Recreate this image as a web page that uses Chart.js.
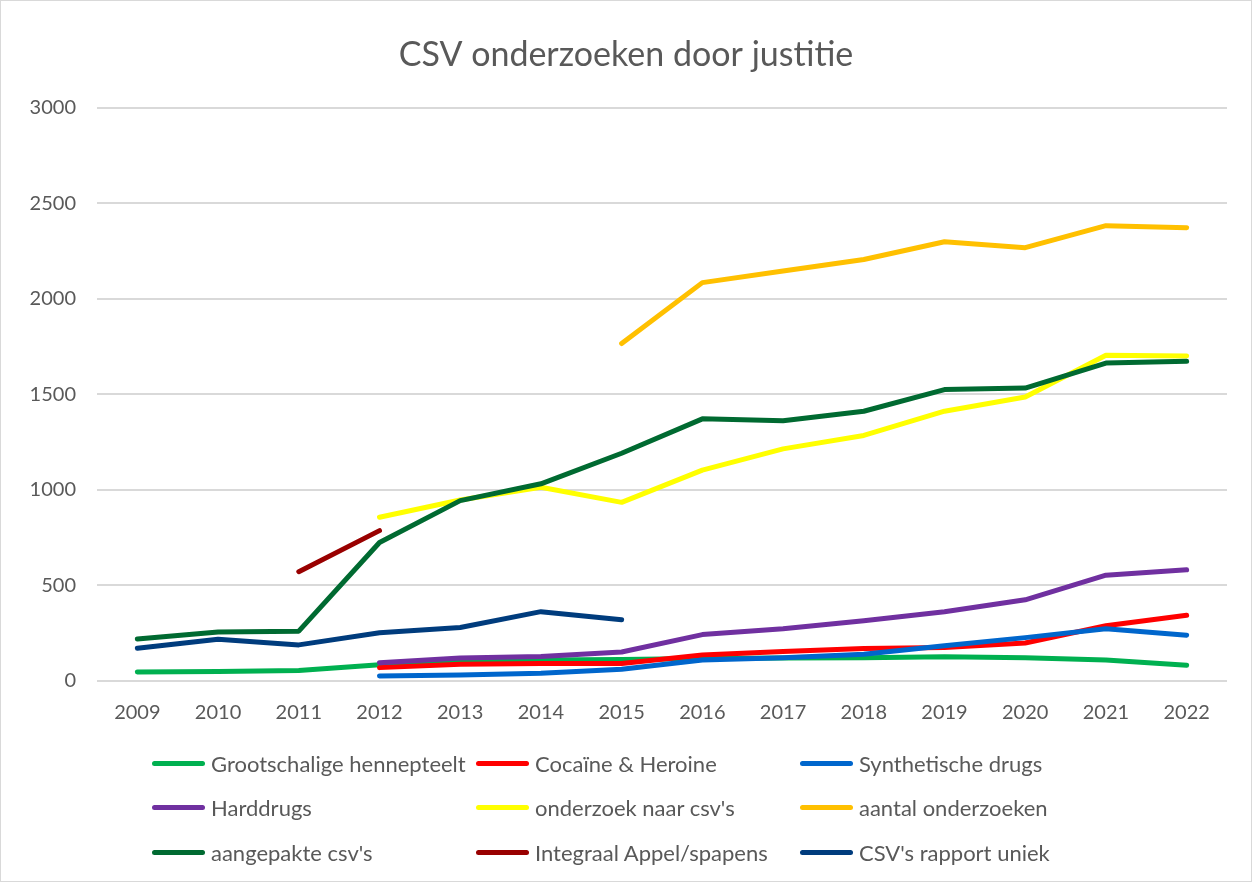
<!DOCTYPE html>
<html>
<head>
<meta charset="utf-8">
<script src="https://cdn.jsdelivr.net/npm/chart.js@4.4.1/dist/chart.umd.min.js"></script>
<style>
  body { margin: 0; background: #fff; }
  #wrap { position: relative; width: 1252px; height: 882px; box-sizing: border-box; border: 1px solid #d9d9d9; }
  #chart { position: absolute; left: 0; top: 0; }
  #legend { position: absolute; left: 151px; top: 740px; display: grid; grid-template-columns: 324px 324px 324px; row-gap: 0; }
  .item { display: flex; align-items: center; height: 44.5px; font-family: Lato, sans-serif; font-size: 22px; color: #595959; }
  .swatch { width: 53px; height: 5px; border-radius: 3px; margin-right: 6px; }
</style>
</head>
<body>
<div id="wrap">
  <canvas id="chart" width="1250" height="752"></canvas>
  <div id="legend"></div>
</div>
<script>
const years = ['2009','2010','2011','2012','2013','2014','2015','2016','2017','2018','2019','2020','2021','2022'];

const hennep       = [47, 50, 55, 85, 100, 110, 112, 118, 120, 122, 127, 122, 110, 82];
const cocaine      = [null, null, null, 70, 88, 92, 92, 136, 154, 170, 175, 199, 289, 344];
const synthetisch  = [null, null, null, 26, 32, 40, 61, 110, 122, 140, 185, 227, 274, 240];
const harddrugs    = [null, null, null, 96, 120, 128, 152, 243, 274, 315, 362, 425, 554, 582];
const onderzoekCsv = [null, null, null, 857, 947, 1014, 935, 1104, 1215, 1285, 1412, 1486, 1705, 1701];
const aantal       = [null, null, null, null, null, null, 1766, 2085, 2146, 2206, 2299, 2268, 2383, 2372];
const aangepakt    = [220, 257, 261, 725, 944, 1032, 1192, 1372, 1362, 1412, 1525, 1533, 1664, 1673];
const integraal    = [null, null, 572, 787, null, null, null, null, null, null, null, null, null, null];
const rapport      = [171, 218, 189, 253, 280, 363, 321, null, null, null, null, null, null, null];

const names  = ['Grootschalige hennepteelt', 'Cocaïne & Heroine', 'Synthetische drugs', 'Harddrugs',
                "onderzoek naar csv's", 'aantal onderzoeken', "aangepakte csv's", 'Integraal Appel/spapens', "CSV's rapport uniek"];
const colors = ['#00b050', '#ff0000', '#0066cc', '#7030a0', '#ffff00', '#ffc000', '#006a31', '#990000', '#003c7d'];
const series = [hennep, cocaine, synthetisch, harddrugs, onderzoekCsv, aantal, aangepakt, integraal, rapport];

const ctx = document.getElementById('chart').getContext('2d');
new Chart(ctx, {
  type: 'line',
  data: {
    labels: years,
    datasets: series.map((d, i) => ({
      label: names[i],
      data: d,
      borderColor: colors[i],
      backgroundColor: colors[i],
      borderWidth: 5,
      borderCapStyle: 'round',
      borderJoinStyle: 'round',
      pointRadius: 0,
      tension: 0,
      spanGaps: false,
      order: 20 - i
    }))
  },
  options: {
    responsive: false,
    animation: false,
    layout: { padding: { left: 24, right: 24, top: 0, bottom: 16 } },
    plugins: {
      legend: { display: false },
      tooltip: { enabled: false },
      title: {
        display: true,
        text: 'CSV onderzoeken door justitie',
        color: '#595959',
        font: { family: 'Lato', size: 34, weight: 'normal' },
        padding: { top: 34, bottom: 32 }
      }
    },
    scales: {
      x: {
        offset: true,
        grid: { display: false },
        border: { display: false },
        ticks: { color: '#595959', font: { family: 'Lato', size: 20 }, padding: 12 }
      },
      y: {
        min: 0,
        max: 3000,
        afterFit: s => { s.width = 72; },
        grid: { color: '#d9d9d9', lineWidth: 2, drawTicks: false },
        border: { display: false },
        ticks: { stepSize: 500, color: '#595959', font: { family: 'Lato', size: 20 }, padding: 21,
                 callback: v => String(v) }
      }
    }
  }
});

const legend = document.getElementById('legend');
names.forEach((n, i) => {
  const el = document.createElement('div');
  el.className = 'item';
  el.innerHTML = '<span class="swatch" style="background:' + colors[i] + '"></span><span></span>';
  el.lastChild.textContent = n;
  legend.appendChild(el);
});
</script>
</body>
</html>
